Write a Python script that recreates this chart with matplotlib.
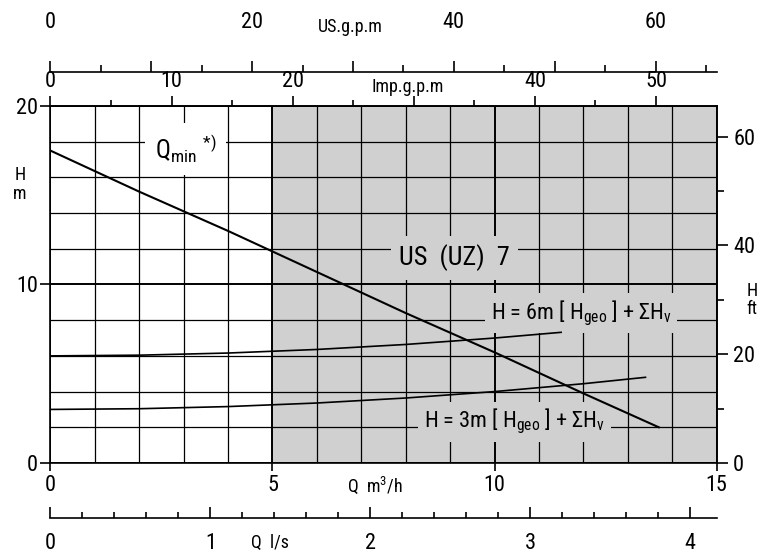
import matplotlib
matplotlib.use('Agg')
import matplotlib.pyplot as plt
from matplotlib import font_manager
from matplotlib.ticker import MultipleLocator

# pump curve US (UZ) 7, Q in m3/h, H in m
pump_q = [0, 2, 4, 6, 8, 10, 12, 13.7]
pump_h = [17.5, 15.2, 13.0, 10.7, 8.4, 6.2, 3.9, 2.0]

# system curves
sys6_q = [0, 2, 4, 6, 8, 10, 11.5]
sys6_h = [6.0, 6.04, 6.16, 6.36, 6.64, 7.0, 7.32]
sys3_q = [0, 2, 4, 6, 8, 10, 12, 13.4]
sys3_h = [3.0, 3.04, 3.16, 3.36, 3.64, 4.0, 4.44, 4.8]

q_ticks = [0, 5, 10, 15]
h_ticks = [0, 10, 20]
ft_ticks = [0, 20, 40, 60]
ls_ticks = [0, 1, 2, 3, 4]
us_ticks = [0, 10, 20, 30, 40, 50, 60]
us_labels = ['0', '', '20', '', '40', '', '60']
imp_ticks = [0, 10, 20, 30, 40, 50]
imp_labels = ['0', '10', '20', '', '40', '50']

# look for a narrow font, the chart uses a condensed DIN-like face
fonts = font_manager.fontManager.ttflist
names = {f.name for f in fonts}
font = 'DejaVu Sans'
for cand in ['Liberation Sans Narrow', 'Roboto Condensed', 'Open Sans Condensed', 'DejaVu Sans Condensed']:
    if cand in names:
        font = cand
        break
plt.rcParams['font.family'] = [font, 'DejaVu Sans']
plt.rcParams['mathtext.fontset'] = 'custom'
plt.rcParams['mathtext.rm'] = font
plt.rcParams['mathtext.it'] = font

narrow = font != 'DejaVu Sans'
fs = 16 if narrow else 13
fs_small = 13 if narrow else 10
gray = '#d0d0d0'

fig = plt.figure(figsize=(7.6, 5.55), dpi=100)
ax = fig.add_axes([0.0664, 0.1658, 0.8764, 0.6432])
ax.set_xlim(0, 15)
ax.set_ylim(0, 20)
ax.set_axisbelow(True)
ax.axvspan(5, 15, color=gray, zorder=0, lw=0)

ax.set_xticks(q_ticks)
ax.set_yticks(h_ticks)
ax.xaxis.set_minor_locator(MultipleLocator(1))
ax.yaxis.set_minor_locator(MultipleLocator(2))
ax.grid(which='major', color='k', lw=1.4)
ax.grid(which='minor', color='k', lw=0.9)
ax.tick_params(which='minor', length=0)
ax.tick_params(axis='x', which='major', length=6, width=1.2, pad=3, labelsize=fs, top=False)
ax.tick_params(axis='y', which='major', length=7, width=1.2, pad=2, labelsize=fs, right=False)
for s in ax.spines.values():
    s.set_linewidth(1.2)

ax.plot(pump_q, pump_h, color='k', lw=1.5, zorder=4)
ax.plot(sys6_q, sys6_h, color='k', lw=1.2, zorder=4)
ax.plot(sys3_q, sys3_h, color='k', lw=1.2, zorder=4)

# text labels (boxes cut the grid lines)
ax.text(9.1, 11.5, 'US  (UZ)  7', fontsize=fs + 3, ha='center', va='center',
        bbox=dict(facecolor=gray, edgecolor='none', pad=6))
ax.text(11.95, 8.4, r'H = 6m [ H$_{\rm geo}$ ] + ΣH$_{\rm v}$', fontsize=fs, ha='center', va='center',
        bbox=dict(facecolor=gray, edgecolor='none', pad=4))
ax.text(10.45, 2.3, r'H = 3m [ H$_{\rm geo}$ ] + ΣH$_{\rm v}$', fontsize=fs, ha='center', va='center',
        bbox=dict(facecolor=gray, edgecolor='none', pad=4))
ax.text(3.05, 17.6, r'Q$_{\rm min}$ $^{*)}$', fontsize=fs + 2, ha='center', va='center',
        bbox=dict(facecolor='white', edgecolor='none', pad=7))

# axis names
ax.text(-0.046, 0.78, 'H\nm', transform=ax.transAxes, fontsize=fs_small, ha='center', va='center', linespacing=1.1)
ax.text(1.053, 0.457, 'H\nft', transform=ax.transAxes, fontsize=fs_small, ha='center', va='center', linespacing=1.0)
ax.text(7.3, -0.062, r'Q  m$^3$/h', transform=ax.get_xaxis_transform(), fontsize=fs_small, ha='center', va='center')
ax.text(4.95, -0.224, 'Q  l/s', transform=ax.get_xaxis_transform(), fontsize=fs_small, ha='center', va='center')
ax.text(6.75, 1.221, 'US.g.p.m', transform=ax.get_xaxis_transform(), fontsize=fs_small, ha='center', va='center')
ax.text(8.05, 1.053, 'Imp.g.p.m', transform=ax.get_xaxis_transform(), fontsize=fs_small, ha='center', va='center')

# H in ft on the right
ft = ax.secondary_yaxis('right', functions=(lambda h: h * 3.2808, lambda f: f / 3.2808))
ft.set_yticks(ft_ticks)
ft.yaxis.set_minor_locator(MultipleLocator(10))
ft.tick_params(which='major', length=8, width=1.2, pad=4, labelsize=fs)
ft.tick_params(which='minor', length=5, width=1.2)
ft.spines['right'].set_linewidth(1.2)

# Imp.g.p.m on the top spine
imp = ax.secondary_xaxis('top', functions=(lambda q: q * 3.6662, lambda g: g / 3.6662))
imp.set_xticks(imp_ticks, imp_labels)
imp.xaxis.set_minor_locator(MultipleLocator(5))
imp.tick_params(which='major', length=7, width=1.2, pad=3, labelsize=fs)
imp.tick_params(which='minor', length=4, width=1.2)
imp.spines['top'].set_linewidth(1.2)

# US.g.p.m above
us = ax.secondary_xaxis(1.0952, functions=(lambda q: q * 4.4029, lambda g: g / 4.4029))
us.set_xticks(us_ticks, us_labels)
us.xaxis.set_minor_locator(MultipleLocator(5))
us.tick_params(which='major', length=8, width=1.2, pad=20, labelsize=fs)
us.tick_params(which='minor', length=5, width=1.2)
us.spines['top'].set_linewidth(1.2)

# Q in l/s below
ls = ax.secondary_xaxis(-0.154, functions=(lambda q: q / 3.6, lambda l: l * 3.6))
ls.set_xticks(ls_ticks)
ls.xaxis.set_minor_locator(MultipleLocator(0.2))
ls.tick_params(which='both', direction='in', width=1.2)
ls.tick_params(which='major', length=8, pad=11, labelsize=fs)
ls.tick_params(which='minor', length=4)
ls.spines['bottom'].set_linewidth(1.2)

fig.savefig('out.png', dpi=100)
